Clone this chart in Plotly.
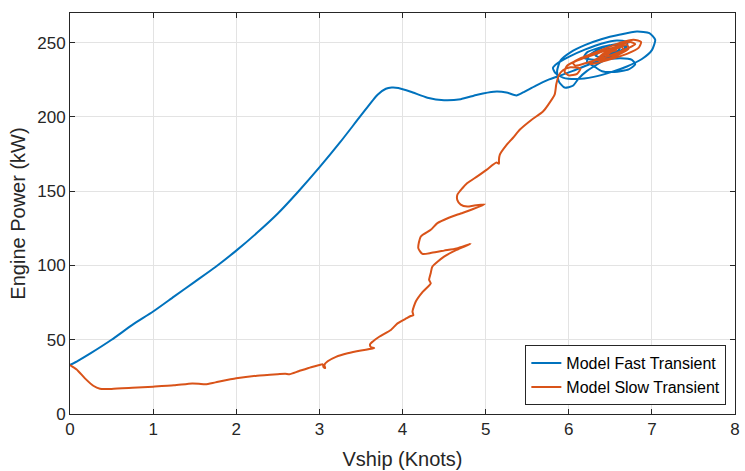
import plotly.graph_objects as go

# ---- data ----
fast_x = [0.00, 0.10, 0.25, 0.50, 0.75, 1.00, 1.25, 1.50, 1.75, 2.00, 2.25, 2.50, 2.75, 3.00,
          3.25, 3.50, 3.70, 3.80, 3.87, 3.95, 4.10, 4.30, 4.50, 4.70, 4.90, 5.10, 5.25, 5.37,
          5.45, 5.60, 5.75,
          5.90, 6.05, 6.25, 6.45, 6.60, 6.70, 6.70, 6.58, 6.40, 6.20, 6.00, 5.86, 5.81, 5.84,
          5.93, 6.10, 6.30, 6.50, 6.70, 6.88, 7.00, 7.04, 6.97, 6.82, 6.62, 6.40, 6.20, 6.02,
          5.90, 5.86, 5.88, 5.95, 6.05, 6.12, 6.22, 6.36, 6.50, 6.62, 6.68, 6.62, 6.48, 6.34,
          6.24, 6.22, 6.32, 6.40, 6.55, 6.72, 6.80, 6.76, 6.62, 6.45, 6.30, 6.18, 6.22, 6.36,
          6.52, 6.62, 6.60, 6.50, 6.38, 6.32, 6.40, 6.52, 6.56, 6.48]
fast_y = [33.0, 36.0, 41.0, 50.0, 60.0, 69.0, 79.0, 89.0, 99.0, 110.0, 122.0, 135.0, 150.0, 166.0,
          183.0, 201.0, 215.0, 219.0, 219.8, 219.5, 217.0, 213.0, 211.3, 212.0, 215.0, 217.0, 216.5, 214.5,
          216.5, 221.0, 225.0,
          228.0, 231.0, 235.5, 240.0, 244.0, 247.5, 250.5, 251.5, 249.5, 245.5, 240.5, 236.0, 233.0, 229.5,
          226.5, 225.5, 227.0, 230.0, 234.0, 239.0, 245.0, 252.0, 256.5, 257.5, 255.5, 252.5, 248.5, 243.5,
          238.0, 231.0, 224.0, 219.8, 221.0, 226.0, 231.0, 236.0, 240.5, 244.0, 247.0, 249.0, 248.0, 245.0,
          241.0, 237.0, 233.5, 230.8, 230.3, 232.0, 235.5, 238.5, 239.5, 239.0, 238.5, 240.0, 243.5, 246.5,
          248.5, 248.0, 245.0, 242.0, 240.0, 241.5, 244.5, 246.0, 244.0, 242.5]

slow_x = [0.00, 0.08, 0.18, 0.28, 0.36, 0.50, 0.75, 1.00, 1.25, 1.47, 1.55, 1.63, 1.75, 2.00,
          2.25, 2.50, 2.59, 2.64, 2.75, 2.90, 3.00, 3.04, 3.05, 3.07, 3.06, 3.10, 3.20, 3.34,
          3.50, 3.66, 3.62, 3.61, 3.64, 3.72, 3.86, 3.94, 4.05, 4.10, 4.13, 4.12, 4.16, 4.24,
          4.34, 4.32, 4.34, 4.36, 4.50, 4.65, 4.82, 4.65, 4.50, 4.35, 4.24, 4.19, 4.22, 4.34,
          4.42, 4.55, 4.70, 4.85, 4.99, 4.85, 4.78, 4.70, 4.66, 4.66, 4.72, 4.78, 4.90, 5.01,
          5.13, 5.16, 5.16, 5.17, 5.25, 5.33, 5.41, 5.55, 5.69, 5.75, 5.83, 5.85,
          5.88, 5.93, 6.02, 6.14, 6.10, 6.00, 5.95, 5.98, 6.10, 6.28, 6.48, 6.62, 6.74, 6.80,
          6.70, 6.55, 6.40, 6.22, 6.08, 6.05, 6.16, 6.32, 6.48, 6.62, 6.78, 6.87, 6.84, 6.70,
          6.54, 6.38, 6.26, 6.30, 6.44, 6.58, 6.70, 6.72, 6.60, 6.46, 6.34, 6.40, 6.52, 6.63,
          6.66, 6.56, 6.45, 6.50, 6.58]
slow_y = [33.0, 30.0, 24.0, 19.0, 17.0, 16.9, 17.6, 18.4, 19.3, 20.6, 20.4, 20.0, 21.3, 24.0,
          25.8, 26.8, 27.1, 26.8, 28.8, 31.5, 33.0, 33.5, 31.5, 31.0, 33.0, 35.5, 38.5, 40.9,
          42.8, 44.3, 45.0, 47.0, 48.7, 52.0, 56.6, 61.0, 64.5, 66.0, 66.5, 69.0, 75.7, 82.0,
          88.0, 90.3, 95.0, 99.3, 106.0, 110.5, 114.6, 111.5, 110.0, 108.5, 107.8, 111.7, 119.5, 124.0,
          128.5, 132.0, 135.0, 138.0, 141.3, 140.2, 139.7, 141.0, 144.0, 147.6, 152.0, 155.5, 160.0, 164.4,
          169.4, 168.5, 171.0, 174.5, 181.0, 186.0, 191.4, 198.0, 203.7, 208.0, 215.0, 222.0,
          228.0, 231.5, 233.5, 232.5, 229.0, 228.0, 230.5, 234.5, 238.0, 241.5, 245.5, 248.5, 250.5, 249.0,
          246.0, 242.5, 239.5, 236.5, 234.5, 236.5, 240.0, 243.5, 247.0, 250.0, 252.0, 250.5, 246.5, 242.5,
          239.5, 237.0, 235.5, 238.0, 242.0, 246.0, 248.5, 246.0, 242.0, 239.0, 238.5, 242.0, 245.5, 247.5,
          245.0, 242.0, 241.0, 243.5, 245.0]

x_ticks = [0, 1, 2, 3, 4, 5, 6, 7, 8]
y_ticks = [0, 50, 100, 150, 200, 250]

FONT = "Liberation Sans, Arial, sans-serif"
AX = "#262626"
GRID = "#e3e3e3"

fig = go.Figure()
fig.add_trace(go.Scatter(x=fast_x, y=fast_y, mode="lines", name="Model Fast Transient",
                         line=dict(color="#0072BD", width=2, shape="spline", smoothing=0.6)))
fig.add_trace(go.Scatter(x=slow_x, y=slow_y, mode="lines", name="Model Slow Transient",
                         line=dict(color="#D95319", width=2, shape="spline", smoothing=0.6)))

axis_common = dict(showline=True, linecolor=AX, linewidth=1, mirror="ticks",
                   ticks="inside", ticklen=5, tickcolor=AX, showgrid=True, gridcolor=GRID,
                   gridwidth=1, zeroline=False, tickfont=dict(family=FONT, size=17, color=AX))

fig.update_xaxes(range=[0, 8], tickvals=x_ticks,
                 title=dict(text="Vship (Knots)", font=dict(family=FONT, size=20, color=AX), standoff=13),
                 **axis_common)
fig.update_yaxes(range=[0, 270], tickvals=y_ticks,
                 title=dict(text="Engine Power (kW)", font=dict(family=FONT, size=20, color=AX), standoff=6),
                 **axis_common)

fig.update_layout(
    width=745, height=471,
    margin=dict(l=70, r=5, t=13, b=57),
    paper_bgcolor="white", plot_bgcolor="white",
    showlegend=True,
    legend=dict(x=0.987, y=0.022, xanchor="right", yanchor="bottom",
                bgcolor="white", bordercolor=AX, borderwidth=1,
                font=dict(family=FONT, size=16, color="#000000"),
                tracegroupgap=0, itemwidth=30),
)

fig.write_html("out.html")
